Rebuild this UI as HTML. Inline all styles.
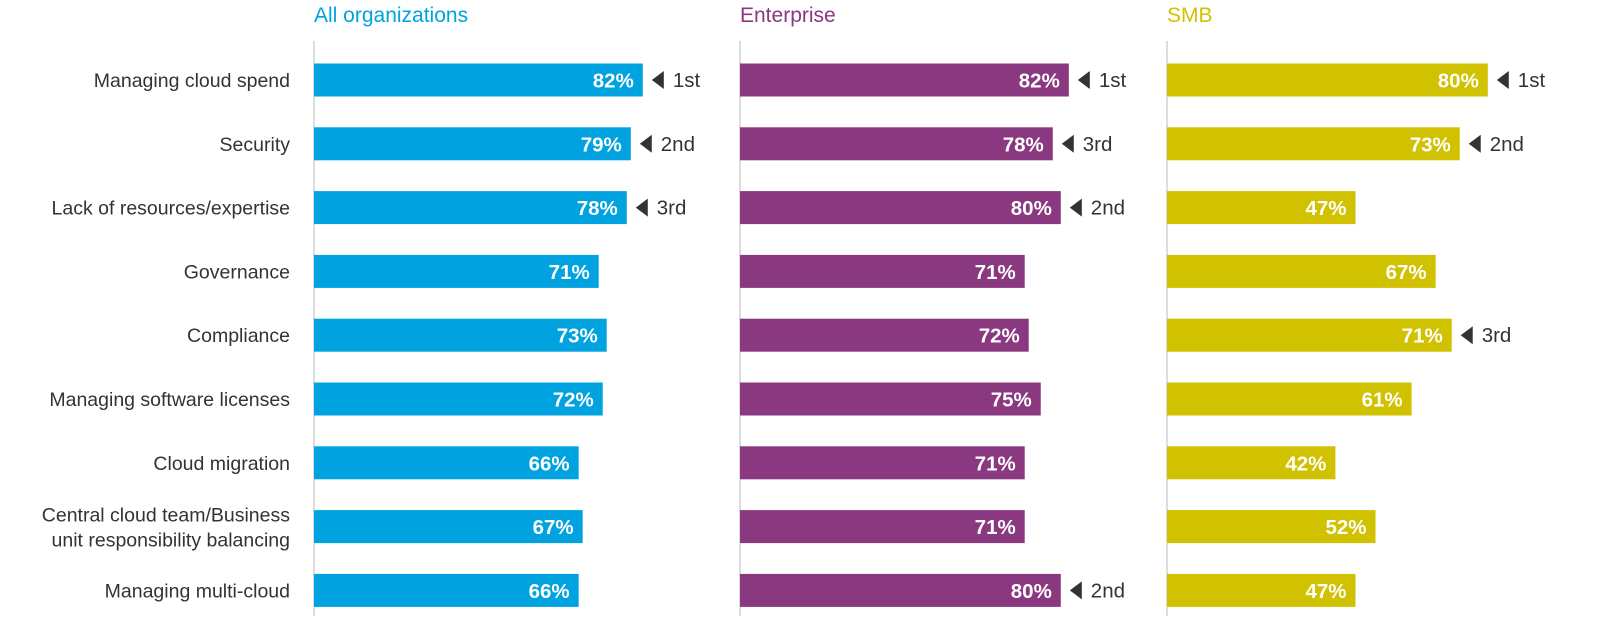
<!DOCTYPE html>
<html><head><meta charset="utf-8"><style>
body{margin:0;background:#fff;width:1600px;height:632px;overflow:hidden}
svg{font-family:"Liberation Sans",sans-serif}
</style></head><body>
<svg id="c" width="1600" height="632"></svg>
<script>
const categories=["Managing cloud spend","Security","Lack of resources/expertise","Governance","Compliance","Managing software licenses","Cloud migration","Central cloud team/Business|unit responsibility balancing","Managing multi-cloud"];
const panelTitles=["All organizations","Enterprise","SMB"];
const allValues=[82,79,78,71,73,72,66,67,66];
const entValues=[82,78,80,71,72,75,71,71,80];
const smbValues=[80,73,47,67,71,61,42,52,47];
const allRanks=["1st","2nd","3rd","","","","","",""];
const entRanks=["1st","3rd","2nd","","","","","","2nd"];
const smbRanks=["1st","2nd","","","3rd","","","",""];
const series=[allValues,entValues,smbValues];
const ranks=[allRanks,entRanks,smbRanks];
const colors=["#00a3e0","#8a3880","#d0c200"];
const panelX=[314,740,1167];
const names=["all-organizations","enterprise","smb"];
const NS="http://www.w3.org/2000/svg";
const svg=document.getElementById('c');
function el(t,a,txt){const e=document.createElementNS(NS,t);for(const k in a)e.setAttribute(k,a[k]);if(txt!==undefined)e.textContent=txt;svg.appendChild(e);return e;}
const xs=v=>v*4.01;
const yc=i=>80+i*63.8;
const bh=33;
categories.forEach((c,i)=>{
  const parts=c.split('|');
  const t=el('text',{x:290,y:yc(i)+7-(parts.length-1)*12,'text-anchor':'end','font-size':19.5,fill:'#333'});
  
  
  parts.forEach((p,j)=>{const s=document.createElementNS(NS,'tspan');s.setAttribute('x',290);if(j)s.setAttribute('dy',25);s.textContent=p;t.appendChild(s);});
});
series.forEach((vals,p)=>{
  const x0=panelX[p];
  const tt=el('text',{x:x0,y:22,'font-size':21,fill:colors[p]},panelTitles[p]);
  
  
  const ax=el('line',{x1:x0,x2:x0,y1:41,y2:616,stroke:'#bbb','stroke-width':1});
  
  
  vals.forEach((v,i)=>{
    const w=xs(v),y=yc(i);
    const r=el('rect',{x:x0,y:y-bh/2,width:w,height:bh,fill:colors[p]});
    
    
    const lt=el('text',{x:x0+w-9,y:y+7.5,'text-anchor':'end','font-size':20.5,'font-weight':'bold',fill:'#fff'},v+'%');
    
    
    const rk=ranks[p][i];
    if(rk){
      const tx=x0+w+9;
      const tri=el('polygon',{points:`${tx},${y} ${tx+12},${y-9} ${tx+12},${y+9}`,fill:'#333'});
      
      
      const rt=el('text',{x:tx+21,y:y+7,'font-size':20.5,fill:'#333'},rk);
      
      
    }
  });
});
</script>
</body></html>
